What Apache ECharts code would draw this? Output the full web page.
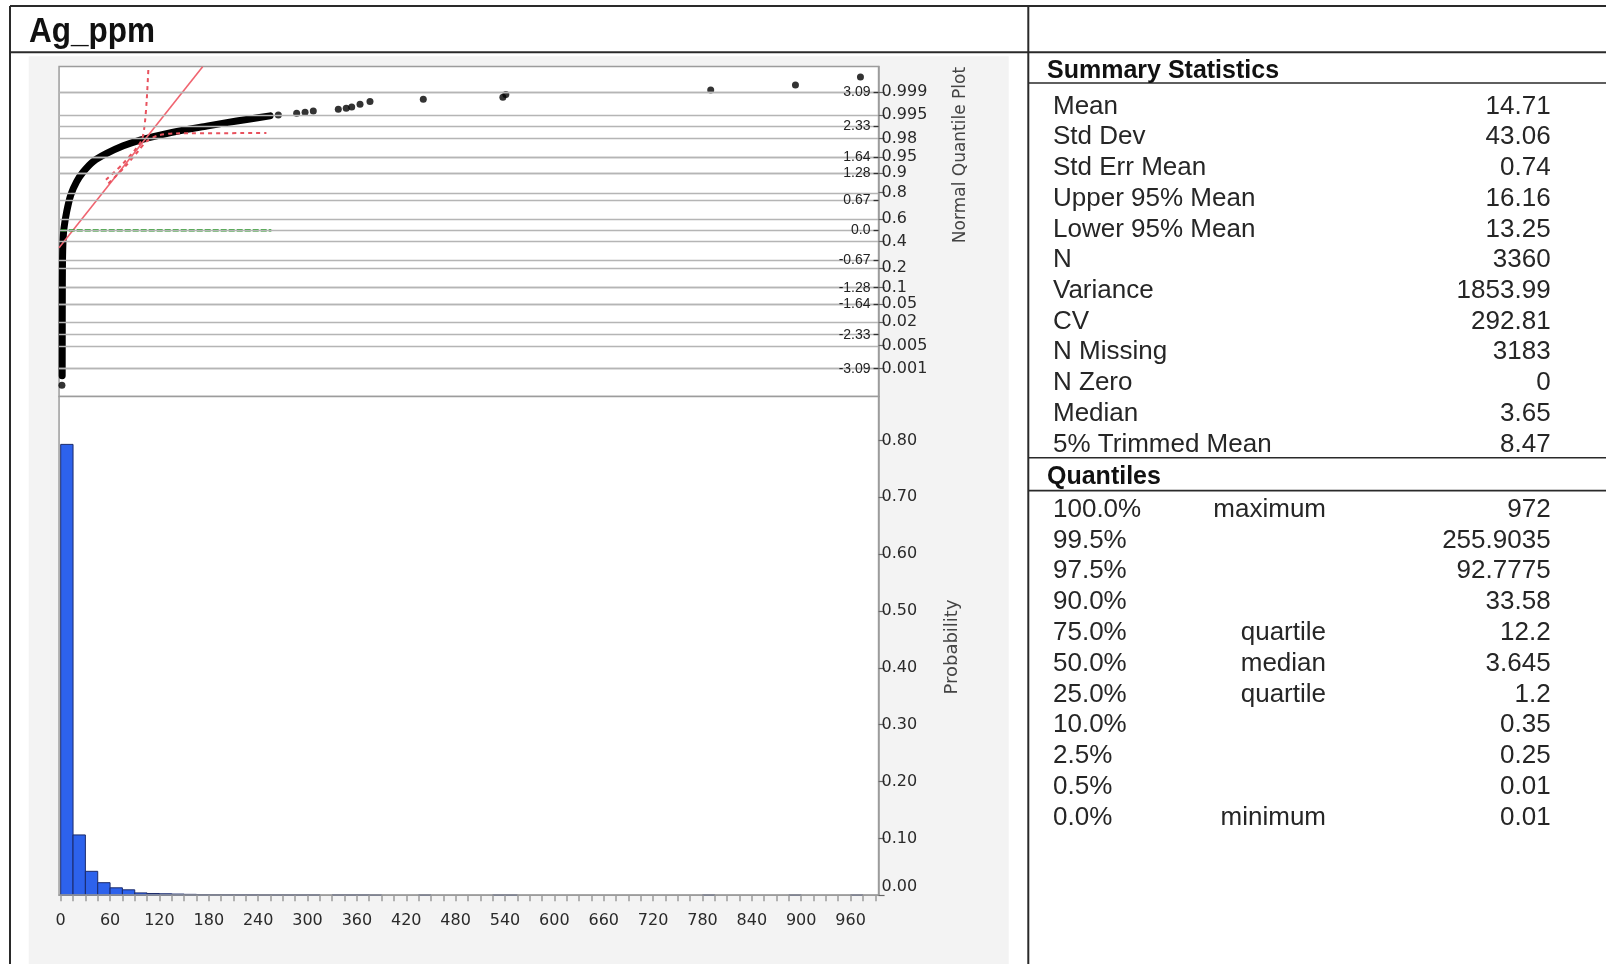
<!DOCTYPE html>
<html>
<head>
<meta charset="utf-8">
<script src="https://cdn.jsdelivr.net/npm/echarts@6/dist/echarts.min.js"></script>
<style>
html,body{margin:0;padding:0;background:#fff;}
#c{width:1606px;height:964px;}
</style>
</head>
<body>
<div id="c"></div>
<script>
// ---------------- DATA ----------------
const chartTitle = 'Ag_ppm';

// histogram bins (start of each 15-wide bin) and probabilities
const binWidth = 15;
const binStart = [0,15,30,45,60,75,90,105,120,135,150,165,180,195,210,225,240,255,270,285,300,330,345,360,375,435,525,540,780,885,960];
const binProb  = [0.793,0.106,0.042,0.022,0.013,0.0095,0.004,0.003,0.0025,0.002,0.0015,0.0012,0.001,0.001,0.0009,0.0009,0.0006,0.0006,0.0006,0.0006,0.0006,0.0006,0.0006,0.0006,0.0003,0.0003,0.0003,0.0003,0.0003,0.0003,0.0003];

// normal quantile plot: dense part of the curve [value, normal quantile]
const qpCurve = [[1.8,-3.25],[1.9,-2.0],[2.0,-1.2],[2.2,-0.67],[2.8,-0.25],[4.0,0.05],[7.3,0.42],[12.2,0.79],[19.4,1.09],[27.5,1.31],[39.6,1.54],[55.9,1.72],[76.1,1.89],[96.4,2.02],[120.7,2.13],[149,2.24],[177.4,2.33],[201.8,2.41],[226,2.48],[254.4,2.56]];
// isolated points
const qpPoints = [[1.5,-3.46],[264.5,2.58],[286.8,2.62],[297,2.64],[307,2.67],[337.4,2.71],[347,2.73],[353.7,2.76],[363.8,2.82],[375.9,2.88],[440.7,2.93],[537.4,2.975],[541,3.04],[790,3.136],[893,3.25],[972,3.43]];
// normal fit line, confidence bounds, median line
const fitLine = [[-2,-0.39],[172.5,3.66]];
const boundA = [[55,1.13],[75,1.48],[92,1.84],[99,2.05],[102,2.35],[104.5,2.9],[106.7,3.66]];
const boundB = [[58,1.05],[78,1.42],[95,1.79],[105,2.0],[118,2.12],[140,2.168],[250,2.175]];
const medianLine = [[0,0],[256,0]];

// axis tick labels
const xLabelVals = [0,60,120,180,240,300,360,420,480,540,600,660,720,780,840,900,960];
const xTickVals = [0,15,30,45,60,75,90,105,120,135,150,165,180,195,210,225,240,255,270,285,300,315,330,345,360,375,390,405,420,435,450,465,480,495,510,525,540,555,570,585,600,615,630,645,660,675,690,705,720,735,750,765,780,795,810,825,840,855,870,885,900,915,930,945,960,975,990];
const zLabelVals = [3.09,2.33,1.64,1.28,0.67,0,-0.67,-1.28,-1.64,-2.33,-3.09];
const zLabelText = ['3.09','2.33','1.64','1.28','0.67','0.0','-0.67','-1.28','-1.64','-2.33','-3.09'];
const probZ = [3.0902,2.5758,2.0537,1.6449,1.2816,0.8416,0.2533,-0.2533,-0.8416,-1.2816,-1.6449,-2.0537,-2.5758,-3.0902];
const probText = ['0.999','0.995','0.98','0.95','0.9','0.8','0.6','0.4','0.2','0.1','0.05','0.02','0.005','0.001'];
const histYVals = [0,0.1,0.2,0.3,0.4,0.5,0.6,0.7,0.8];

// summary table
const statLabels = ['Mean','Std Dev','Std Err Mean','Upper 95% Mean','Lower 95% Mean','N','Variance','CV','N Missing','N Zero','Median','5% Trimmed Mean'];
const statValues = ['14.71','43.06','0.74','16.16','13.25','3360','1853.99','292.81','3183','0','3.65','8.47'];
const quantPct = ['100.0%','99.5%','97.5%','90.0%','75.0%','50.0%','25.0%','10.0%','2.5%','0.5%','0.0%'];
const quantName = ['maximum','','','','quartile','median','quartile','','','','minimum'];
const quantValue = ['972','255.9035','92.7775','33.58','12.2','3.645','1.2','0.35','0.25','0.01','0.01'];

// ---------------- LAYOUT ----------------
const X_MIN = -2, X_MAX = 994;
const Z_MIN = -3.71, Z_MAX = 3.661;
const H_MAX = 0.8774;
const G_LEFT = 59.05, G_WIDTH = 819.5;
const QP_TOP = 66.6, QP_H = 396.4 - 66.6;
const H_TOP = 396.4, H_H = 895.2 - 396.4;

function lookup(vals, texts, v) {
  let bi = 0, bd = Infinity;
  for (let i = 0; i < vals.length; i++) { const d = Math.abs(vals[i] - v); if (d < bd) { bd = d; bi = i; } }
  return texts[bi];
}

const LINE = '#2a2a2a';
const TEXT = '#262626';
const FONT = '"Liberation Sans", Arial, sans-serif';
const AXFONT = '"DejaVu Sans", sans-serif';

const graphics = [];
// panel background
graphics.push({type:'rect', z:-100, shape:{x:28.7, y:56.3, width:980, height:908}, style:{fill:'#f3f3f3'}});
// borders
graphics.push({type:'line', z:50, shape:{x1:10, y1:6, x2:1606, y2:6}, style:{stroke:LINE, lineWidth:2}});
graphics.push({type:'line', z:50, shape:{x1:10, y1:6, x2:10, y2:964}, style:{stroke:LINE, lineWidth:2}});
graphics.push({type:'line', z:50, shape:{x1:1028.3, y1:6, x2:1028.3, y2:964}, style:{stroke:LINE, lineWidth:2}});
graphics.push({type:'line', z:50, shape:{x1:10, y1:52.2, x2:1606, y2:52.2}, style:{stroke:LINE, lineWidth:2}});
graphics.push({type:'line', z:50, shape:{x1:1028.3, y1:83, x2:1606, y2:83}, style:{stroke:LINE, lineWidth:1.6}});
graphics.push({type:'line', z:50, shape:{x1:1028.3, y1:457.8, x2:1606, y2:457.8}, style:{stroke:LINE, lineWidth:1.6}});
graphics.push({type:'line', z:50, shape:{x1:1028.3, y1:490.6, x2:1606, y2:490.6}, style:{stroke:LINE, lineWidth:1.6}});
// title
graphics.push({type:'text', z:50, x:29, y:32, scaleX:0.9, style:{text:chartTitle, font:'bold 35px ' + FONT, fill:'#111', align:'left', verticalAlign:'middle'}});
// axis names
graphics.push({type:'text', z:50, x:960.5, y:155, rotation:Math.PI/2, style:{text:'Normal Quantile Plot', font:'17px ' + AXFONT, fill:'#444', align:'center', verticalAlign:'middle'}});
graphics.push({type:'text', z:50, x:952.5, y:647, rotation:Math.PI/2, style:{text:'Probability', font:'18px ' + AXFONT, fill:'#444', align:'center', verticalAlign:'middle'}});
// table headers
graphics.push({type:'text', z:50, x:1047, y:71, style:{text:'Summary Statistics', font:'bold 25px ' + FONT, fill:'#111', align:'left', verticalAlign:'middle'}});
graphics.push({type:'text', z:50, x:1047, y:477, style:{text:'Quantiles', font:'bold 25px ' + FONT, fill:'#111', align:'left', verticalAlign:'middle'}});
statLabels.forEach((s, i) => {
  const y = 106.5 + i * 30.72;
  graphics.push({type:'text', z:50, x:1053, y:y, style:{text:s, font:'26px ' + FONT, fill:TEXT, align:'left', verticalAlign:'middle'}});
  graphics.push({type:'text', z:50, x:1550.6, y:y, style:{text:statValues[i], font:'26px ' + FONT, fill:TEXT, align:'right', verticalAlign:'middle'}});
});
quantPct.forEach((s, i) => {
  const y = 509.5 + i * 30.83;
  graphics.push({type:'text', z:50, x:1053, y:y, style:{text:s, font:'26px ' + FONT, fill:TEXT, align:'left', verticalAlign:'middle'}});
  if (quantName[i]) graphics.push({type:'text', z:50, x:1326, y:y, style:{text:quantName[i], font:'26px ' + FONT, fill:TEXT, align:'right', verticalAlign:'middle'}});
  graphics.push({type:'text', z:50, x:1550.6, y:y, style:{text:quantValue[i], font:'26px ' + FONT, fill:TEXT, align:'right', verticalAlign:'middle'}});
});

const allGridZ = zLabelVals.concat(probZ);

const chart = echarts.init(document.getElementById('c'), null, {renderer:'canvas'});
chart.setOption({
  animation:false,
  backgroundColor:'#fff',
  grid:[
    {left:G_LEFT, top:QP_TOP, width:G_WIDTH, height:QP_H, show:true, backgroundColor:'#fff', borderColor:'#9c9c9c', borderWidth:1.5},
    {left:G_LEFT, top:H_TOP, width:G_WIDTH, height:H_H, show:true, backgroundColor:'#fff', borderColor:'#9c9c9c', borderWidth:1.5}
  ],
  xAxis:[
    {type:'value', gridIndex:0, min:X_MIN, max:X_MAX, show:false, axisLine:{onZero:false}},
    {type:'value', gridIndex:1, min:X_MIN, max:X_MAX, z:10,
      axisLine:{show:true, onZero:false, lineStyle:{color:'#9c9c9c', width:1.5}},
      axisTick:{show:true, length:6, customValues:xTickVals, lineStyle:{color:'#9c9c9c', width:1.5}},
      axisLabel:{show:true, customValues:xLabelVals, margin:18, color:'#2a2a2a', fontFamily:AXFONT, fontSize:16},
      splitLine:{show:false}}
  ],
  yAxis:[
    {type:'value', gridIndex:0, position:'right', min:Z_MIN, max:Z_MAX, z:10,
      axisLine:{show:true, onZero:false, lineStyle:{color:'#9c9c9c', width:1.5}},
      axisTick:{show:true, inside:true, length:5, customValues:zLabelVals, lineStyle:{color:'#333', width:1.3}},
      axisLabel:{show:true, inside:true, margin:8, customValues:zLabelVals, color:'#222', fontFamily:FONT, fontSize:14,
        formatter:(v) => lookup(zLabelVals, zLabelText, v)},
      splitLine:{show:false}},
    {type:'value', gridIndex:0, position:'right', min:Z_MIN, max:Z_MAX, z:10,
      axisLine:{show:false, onZero:false},
      axisTick:{show:true, length:6, customValues:probZ, lineStyle:{color:'#666', width:1.2}},
      axisLabel:{show:true, margin:3, customValues:probZ, color:'#2a2a2a', fontFamily:AXFONT, fontSize:16,
        formatter:(v) => lookup(probZ, probText, v)},
      splitLine:{show:false}},
    {type:'value', gridIndex:1, position:'right', min:0, max:H_MAX, z:10,
      axisLine:{show:true, onZero:false, lineStyle:{color:'#9c9c9c', width:1.5}},
      axisTick:{show:true, length:6, customValues:histYVals, lineStyle:{color:'#666', width:1.2}},
      axisLabel:{show:true, margin:3, customValues:histYVals, color:'#2a2a2a', fontFamily:AXFONT, fontSize:16,
        verticalAlignMinLabel:'bottom',
        formatter:(v) => v.toFixed(2)},
      splitLine:{show:false}}
  ],
  series:[
    {type:'line', xAxisIndex:0, yAxisIndex:0, data:[], silent:true,
      markLine:{silent:true, symbol:'none', animation:false, label:{show:false},
        lineStyle:{color:'#b5b5b5', width:1.3, type:'solid'},
        data: allGridZ.map(z => ({yAxis:z}))}},
    {type:'line', xAxisIndex:0, yAxisIndex:0, data:medianLine, showSymbol:false, symbol:'none', silent:true, z:4,
      lineStyle:{color:'#058c05', width:2.2, type:[6,2]}},
    {type:'line', xAxisIndex:0, yAxisIndex:0, data:qpCurve, showSymbol:false, symbol:'none', smooth:0.2, silent:true,
      lineStyle:{color:'#000', width:7, cap:'round', join:'round'}},
    {type:'scatter', xAxisIndex:0, yAxisIndex:0, data:qpPoints, symbol:'circle', symbolSize:7, silent:true,
      itemStyle:{color:'#000'}},
    {type:'line', xAxisIndex:0, yAxisIndex:0, data:fitLine, showSymbol:false, symbol:'none', silent:true,
      lineStyle:{color:'#f06470', width:1.6}},
    {type:'line', xAxisIndex:0, yAxisIndex:0, data:boundA, showSymbol:false, symbol:'none', smooth:0.3, silent:true,
      lineStyle:{color:'#e8525e', width:2, type:[4,4]}},
    {type:'line', xAxisIndex:0, yAxisIndex:0, data:boundB, showSymbol:false, symbol:'none', smooth:0.3, silent:true,
      lineStyle:{color:'#e8525e', width:2, type:[4,4]}},
    {type:'custom', xAxisIndex:1, yAxisIndex:2, silent:true,
      data: binStart.map((s, i) => [s, s + binWidth, binProb[i]]),
      renderItem:(params, api) => {
        const p0 = api.coord([api.value(0), api.value(2)]);
        const p1 = api.coord([api.value(1), 0]);
        return {type:'rect', shape:{x:p0[0], y:p0[1], width:p1[0]-p0[0], height:p1[1]-p0[1]},
          style:{fill:'#2d62ec', stroke:'#1b2a6a', lineWidth:1}};
      }}
  ],
  graphic: graphics
});
</script>
</body>
</html>
